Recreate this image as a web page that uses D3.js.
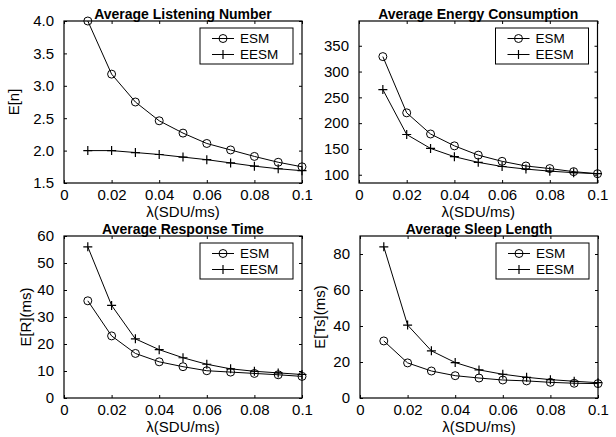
<!DOCTYPE html>
<html>
<head>
<meta charset="utf-8">
<script src="https://cdn.jsdelivr.net/npm/d3@7"></script>
<style>
  body { margin: 0; background: #fff; }
  svg text { font-family: "Liberation Sans", Arial, sans-serif; fill: #000; }
</style>
</head>
<body>
<div id="chart"></div>
<script>
// lambda values shared by all four panels
var lambdas = [0.01, 0.02, 0.03, 0.04, 0.05, 0.06, 0.07, 0.08, 0.09, 0.1];
var xTicks = [0, 0.02, 0.04, 0.06, 0.08, 0.1];

// Average Listening Number
var listenEsm  = [4.0, 3.18, 2.75, 2.46, 2.27, 2.11, 2.01, 1.91, 1.82, 1.75];
var listenEesm = [2.0, 2.0, 1.97, 1.94, 1.90, 1.86, 1.81, 1.76, 1.72, 1.69];
var listenTicks = [1.5, 2.0, 2.5, 3.0, 3.5, 4.0];

// Average Energy Consumption
var energyEsm  = [329, 220, 179, 156, 138, 126, 117, 112, 106, 102];
var energyEesm = [265, 178, 151, 135, 124, 116, 111, 107, 104, 102];
var energyTicks = [100, 150, 200, 250, 300, 350];

// Average Response Time
var respEsm  = [36, 23, 16.5, 13.4, 11.6, 10.1, 9.6, 9.1, 8.6, 8.0];
var respEesm = [56, 34.3, 21.9, 17.9, 14.9, 12.5, 10.8, 9.9, 9.3, 8.7];
var respTicks = [0, 10, 20, 30, 40, 50, 60];

// Average Sleep Length
var sleepEsm  = [31.7, 19.5, 15.0, 12.4, 11.1, 10.0, 9.5, 8.7, 8.2, 8.0];
var sleepEesm = [84, 40.5, 26.2, 19.7, 15.6, 13.2, 11.5, 10.2, 9.3, 8.5];
var sleepTicks = [0, 20, 40, 60, 80];

var width = 616, height = 437;

var svg = d3.select("#chart").append("svg")
  .attr("width", width)
  .attr("height", height);

var panels = [
  { title: "Average Listening Number", ylabel: "E[n]", esm: listenEsm, eesm: listenEesm,
    ticks: listenTicks, ydom: [1.5, 4], fmt: d3.format(".1f"),
    box: [64, 302, 21, 183], ylx: 14 },
  { title: "Average Energy Consumption", ylabel: "", esm: energyEsm, eesm: energyEesm,
    ticks: energyTicks, ydom: [84, 398], fmt: d3.format("d"),
    box: [359, 597.5, 21, 183], ylx: 0 },
  { title: "Average Response Time", ylabel: "E[R](ms)", esm: respEsm, eesm: respEesm,
    ticks: respTicks, ydom: [0, 60], fmt: d3.format("d"),
    box: [64, 302, 236, 398], ylx: 26 },
  { title: "Average Sleep Length", ylabel: "E[Ts](ms)", esm: sleepEsm, eesm: sleepEesm,
    ticks: sleepTicks, ydom: [0, 90], fmt: d3.format("d"),
    box: [360, 598, 236, 398], ylx: 320 }
];

var xFmt = d3.format(".2~f");

function drawMarker(g, type, cx, cy) {
  if (type === "circle") {
    g.append("circle").attr("cx", cx).attr("cy", cy).attr("r", 4)
      .attr("fill", "none").attr("stroke", "#000").attr("stroke-width", 1);
  } else {
    g.append("path")
      .attr("d", "M" + (cx - 4.5) + "," + cy + "H" + (cx + 4.5) + "M" + cx + "," + (cy - 4.5) + "V" + (cy + 4.5))
      .attr("stroke", "#000").attr("stroke-width", 1.2);
  }
}

panels.forEach(function(p) {
  var x0 = p.box[0], x1 = p.box[1], y0 = p.box[2], y1 = p.box[3];
  var x = d3.scaleLinear().domain([0, 0.1]).range([x0, x1]);
  var y = d3.scaleLinear().domain(p.ydom).range([y1, y0]);
  var g = svg.append("g");

  // inward ticks on all four sides (matlab style)
  var bottom = g.append("g").attr("transform", "translate(0," + y1 + ")")
    .call(d3.axisBottom(x).tickValues(xTicks).tickSize(-3).tickPadding(6).tickFormat(xFmt));
  var top = g.append("g").attr("transform", "translate(0," + y0 + ")")
    .call(d3.axisTop(x).tickValues(xTicks).tickSize(-3).tickFormat(""));
  var left = g.append("g").attr("transform", "translate(" + x0 + ",0)")
    .call(d3.axisLeft(y).tickValues(p.ticks).tickSize(-3).tickPadding(10).tickFormat(p.fmt));
  var right = g.append("g").attr("transform", "translate(" + x1 + ",0)")
    .call(d3.axisRight(y).tickValues(p.ticks).tickSize(-3).tickFormat(""));

  [bottom, top, left, right].forEach(function(a) {
    a.select(".domain").remove();
    a.selectAll("line").attr("stroke", "#000");
    a.selectAll("text").style("font-size", "15px").attr("fill", "#000")
      .style("font-family", "'Liberation Sans', Arial, sans-serif");
  });

  g.append("rect")
    .attr("x", x0).attr("y", y0)
    .attr("width", x1 - x0).attr("height", y1 - y0)
    .attr("fill", "none").attr("stroke", "#000").attr("stroke-width", 1.2);

  var line = d3.line()
    .x(function(d, i) { return x(lambdas[i]); })
    .y(function(d) { return y(d); });

  g.append("path").datum(p.esm).attr("d", line)
    .attr("fill", "none").attr("stroke", "#000").attr("stroke-width", 1);
  g.append("path").datum(p.eesm).attr("d", line)
    .attr("fill", "none").attr("stroke", "#000").attr("stroke-width", 1);

  p.esm.forEach(function(v, i) { drawMarker(g, "circle", x(lambdas[i]), y(v)); });
  p.eesm.forEach(function(v, i) { drawMarker(g, "plus", x(lambdas[i]), y(v)); });

  // title
  g.append("text")
    .attr("x", (x0 + x1) / 2).attr("y", y0 - 2.5)
    .attr("text-anchor", "middle")
    .style("font-size", "14px").style("font-weight", "bold")
    .text(p.title);

  // x label
  g.append("text")
    .attr("x", (x0 + x1) / 2).attr("y", y1 + 34)
    .attr("text-anchor", "middle")
    .style("font-size", "15px")
    .text("λ(SDU/ms)");

  // y label
  if (p.ylabel) {
    g.append("text")
      .attr("transform", "translate(" + p.ylx + "," + ((y0 + y1) / 2) + ") rotate(-90)")
      .attr("text-anchor", "middle")
      .attr("dy", "0.35em")
      .style("font-size", "15px")
      .text(p.ylabel);
  }

  // legend
  var lw = 93, lh = 36;
  var lx = x1 - 9 - lw, ly = y0 + 7;
  var lg = g.append("g");
  lg.append("rect").attr("x", lx).attr("y", ly).attr("width", lw).attr("height", lh)
    .attr("fill", "#fff").attr("stroke", "#000").attr("stroke-width", 1);
  [["ESM", "circle"], ["EESM", "plus"]].forEach(function(e, k) {
    var cy = ly + 10.5 + k * 16;
    lg.append("line").attr("x1", lx + 12).attr("x2", lx + 34)
      .attr("y1", cy).attr("y2", cy).attr("stroke", "#000");
    drawMarker(lg, e[1], lx + 23, cy);
    lg.append("text").attr("x", lx + 40).attr("y", cy).attr("dy", "0.36em")
      .style("font-size", "13.5px").text(e[0]);
  });
});
</script>
</body>
</html>
